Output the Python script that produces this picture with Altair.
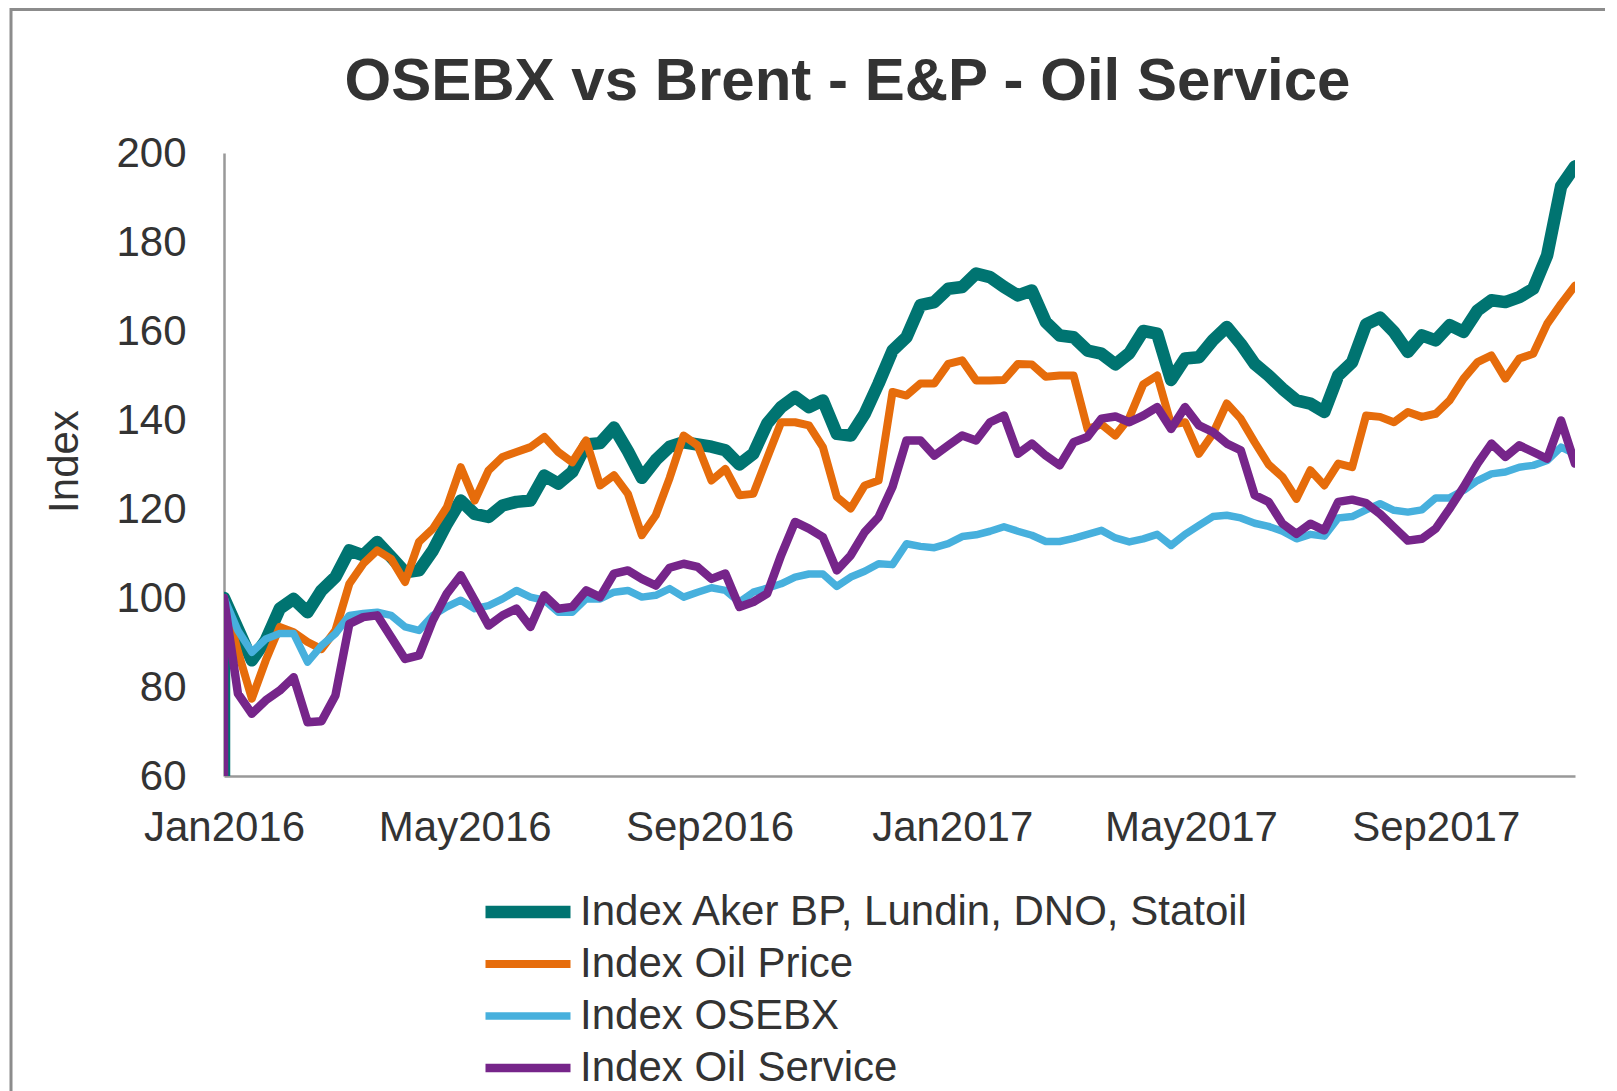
import altair as alt
import pandas as pd

series_names = [
    "Index Aker BP, Lundin, DNO, Statoil",
    "Index Oil Price",
    "Index OSEBX",
    "Index Oil Service",
]
series_colors = ["#007471", "#E66C0B", "#47B0DD", "#76258A"]
series_widths = [12.5, 8, 7.5, 8.5]

# weekly observations starting 1 Jan 2016
dates = pd.date_range("2016-01-01", periods=98, freq="7D")

teal = [100, 93, 86, 90.5, 97.6, 99.8, 96.8, 101.7, 104.7, 110.7,
        109.6, 112.6, 109.2, 105.8, 106.2, 110.7, 116.7, 121.9, 118.9, 118.2,
        120.8, 121.6, 121.9, 127.5, 125.7, 128.3, 134.5, 134.8, 138.3, 133,
        127, 131, 134, 135, 134.5, 134, 133.2, 130, 132.4, 139.2,
        142.9, 145.2, 142.9, 144.4, 136.9, 136.5, 141.4, 148.2, 155.6, 158.6,
        165.8, 166.5, 169.5, 169.9, 172.9, 172.1, 169.9, 168, 169.1, 162,
        159, 158.6, 155.6, 154.9, 152.5, 155, 160, 159.4, 149, 153.8,
        154.1, 157.9, 160.9, 157.1, 152.6, 150, 147, 144.4, 143.7, 141.8,
        150, 153, 161.5, 163, 159.8, 155.3, 159, 157.9, 161.3, 159.8,
        164.6, 166.9, 166.5, 167.6, 169.5, 177, 192.5, 197]

oil_price = [100, 88, 77.4, 86, 93.5, 92.3, 90.1, 88.5, 92.7, 103.2,
             107.7, 110.7, 108.8, 103.6, 112.6, 115.6, 120.4, 129.4, 121.9, 128.7,
             131.7, 132.8, 133.9, 136.2, 132.8, 130.5, 135.4, 125.3, 127.6, 123.4,
             114.1, 118.6, 127, 136.5, 134.3, 126.4, 129, 123.1, 123.4, 131.5,
             139.5, 139.5, 138.8, 133.9, 122.7, 120.1, 125.3, 126.4, 146.3, 145.5,
             148.2, 148.2, 152.6, 153.4, 148.9, 148.9, 149, 152.6, 152.5, 149.7,
             150, 150, 138, 139, 136.5, 140.5, 148, 150, 139, 139.5,
             132.4, 136.9, 143.7, 140.3, 135, 130, 127.2, 122.3, 128.7, 125.3,
             130.2, 129.4, 141, 140.7, 139.5, 141.8, 140.7, 141.4, 144.4, 149.3,
             153, 154.5, 149.3, 153.8, 154.9, 161.6, 166.1, 170.2]

osebx = [100, 92.7, 87.8, 90.8, 92, 92, 85.6, 89.3, 92, 96.1,
         96.5, 96.8, 96.1, 93.5, 92.7, 96.1, 98, 99.5, 97.6, 98.3,
         99.8, 101.7, 100.2, 99.5, 96.8, 96.8, 99.8, 99.8, 101.3, 101.7,
         100.2, 100.6, 102.1, 100.2, 101.3, 102.3, 101.7, 99.1, 101.3, 102.2,
         103.2, 104.7, 105.4, 105.4, 102.6, 104.7, 106, 107.7, 107.5, 112.2,
         111.6, 111.3, 112.2, 113.8, 114.2, 115, 116, 115, 114.1, 112.7,
         112.7, 113.4, 114.3, 115.2, 113.5, 112.6, 113.3, 114.3, 111.8, 114.3,
         116.3, 118.3, 118.6, 118, 116.8, 116.1, 115, 113.3, 114.3, 113.9,
         118, 118.3, 119.8, 121.2, 119.7, 119.3, 119.8, 122.5, 122.5, 124.2,
         126.4, 127.9, 128.3, 129.4, 129.8, 130.9, 133.9, 132.4]

oil_service = [100, 78.5, 74, 77, 79.2, 82.2, 72.1, 72.3, 78.1, 94.2,
               95.7, 96.1, 91.2, 86.3, 87.1, 95, 101, 105.1, 99.5, 93.8,
               96.1, 97.6, 93.5, 100.6, 97.6, 98, 101.7, 100.2, 105.5, 106.2,
               104.3, 102.8, 106.8, 107.7, 107, 104.3, 105.5, 98, 99.1, 101,
               109.6, 117.1, 115.6, 113.7, 106.2, 109.6, 114.8, 118.2, 125, 135.4,
               135.4, 132, 134.3, 136.5, 135.4, 139.5, 141, 132.4, 134.7, 132,
               129.8, 135, 136.2, 140.3, 140.8, 139.5, 141, 142.9, 138, 142.9,
               138.8, 137.3, 134.7, 133.2, 123.1, 121.6, 116.7, 114.4, 116.7, 115.2,
               121.6, 122.1, 121.3, 118.9, 115.9, 112.9, 113.3, 115.6, 120.1, 124.9,
               130.2, 134.7, 131.7, 134.3, 132.8, 131.3, 139.9, 130.2]

# the first observation of two series is a blank (zero) that dips below the axis
start_blank = {series_names[0]: 0, series_names[3]: 0}

y_ticks = [60, 80, 100, 120, 140, 160, 180, 200]

rows = []
for name, vals in zip(series_names, [teal, oil_price, osebx, oil_service]):
    if name in start_blank:
        rows.append({"date": dates[0].strftime("%Y-%m-%dT%H:%M:%S"), "value": start_blank[name],
                     "series": name, "ord": -1})
    for k, (d, v) in enumerate(zip(dates, vals)):
        rows.append({"date": d.strftime("%Y-%m-%dT%H:%M:%S"), "value": v, "series": name, "ord": k})
df = pd.DataFrame(rows)

FONT = "Liberation Sans"
W, H = 1351, 623
PAD = {"left": 216, "top": 145, "right": 30, "bottom": 330}

x_ticks = [alt.DateTime(year=y, month=m, date=1) for (y, m) in
           [(2016, 1), (2016, 5), (2016, 9), (2017, 1), (2017, 5), (2017, 9)]]

lines = alt.Chart(df).mark_line(clip=True, strokeCap="round", strokeJoin="round").encode(
    x=alt.X("date:T",
            scale=alt.Scale(domain=[alt.DateTime(year=2016, month=1, date=1),
                                    alt.DateTime(year=2017, month=11, date=10)], nice=False),
            axis=alt.Axis(title=None, values=x_ticks, format="%b%Y", labelPadding=31,
                          labelAlign="center", labelFlush=False)),
    y=alt.Y("value:Q",
            scale=alt.Scale(domain=[60, 200], zero=False, nice=False),
            axis=alt.Axis(title="Index", values=y_ticks, labelPadding=38,
                          titleX=-160, titleY=308, titleAlign="center", titleBaseline="middle",
                          titleFontSize=42, titleFontWeight="normal", titleColor="#333333",
                          titleFont=FONT)),
    color=alt.Color("series:N", scale=alt.Scale(domain=series_names, range=series_colors),
                    title=None),
    strokeWidth=alt.StrokeWidth("series:N",
                                scale=alt.Scale(type="ordinal", domain=series_names, range=series_widths),
                                title=None),
    order=alt.Order("ord:Q"),
)

# outer frame of the picture (top and left edges)
frame_df = pd.DataFrame({"k": [0]})
frame_left = alt.Chart(frame_df).mark_rule(color="#8c8c8c", strokeWidth=3).encode(
    x=alt.value(-213), y=alt.value(-145), y2=alt.value(H + PAD["bottom"]))
frame_top = alt.Chart(frame_df).mark_rule(color="#8c8c8c", strokeWidth=3).encode(
    y=alt.value(-143.5), x=alt.value(-214), x2=alt.value(W + 60))

chart = alt.layer(lines, frame_left, frame_top).properties(
    width=W,
    height=H,
    padding=PAD,
    autosize=alt.AutoSizeParams(type="none"),
    title=alt.TitleParams("OSEBX vs Brent - E&P - Oil Service", fontSize=60, fontWeight="bold",
                          color="#333333", font=FONT, anchor="middle", frame="group",
                          dx=-52, offset=-106),
).configure_view(stroke=None).configure_axis(
    grid=False, ticks=False, domainColor="#999999", domainWidth=2.5,
    labelFontSize=42, labelColor="#333333", labelFont=FONT,
).configure_legend(
    orient="none", legendX=255, legendY=736, direction="vertical",
    labelFontSize=42, labelColor="#333333", labelFont=FONT, labelLimit=1000,
    symbolType="stroke", symbolSize=7225, clipHeight=46, rowPadding=6, labelOffset=3,
    symbolStrokeWidth=7,
)

chart.save("out.html", embed_options={"renderer": "svg", "actions": False})
